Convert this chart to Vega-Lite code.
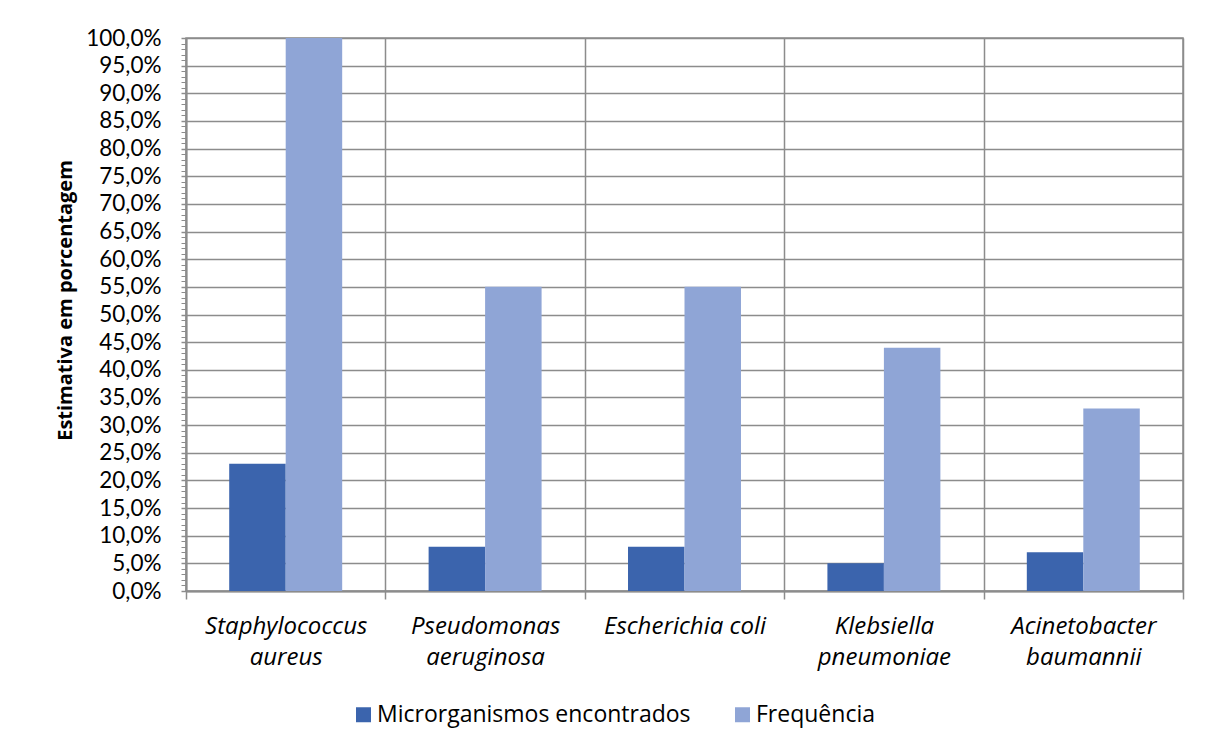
{
  "$schema": "https://vega.github.io/schema/vega-lite/v6.json",
  "width": 997,
  "height": 553,
  "autosize": {"type": "none"},
  "padding": {"left": 186, "top": 38, "right": 27, "bottom": 158},
  "background": "white",
  "config": {
    "font": "Open Sans",
    "view": {"stroke": "#8c8c8c", "strokeWidth": 1.5}
  },
  "data": {
    "values": [
      {"especie": "Staphylococcus aureus", "serie": "Microrganismos encontrados", "valor": 0.23},
      {"especie": "Staphylococcus aureus", "serie": "Frequência", "valor": 1.0},
      {"especie": "Pseudomonas aeruginosa", "serie": "Microrganismos encontrados", "valor": 0.08},
      {"especie": "Pseudomonas aeruginosa", "serie": "Frequência", "valor": 0.55},
      {"especie": "Escherichia coli", "serie": "Microrganismos encontrados", "valor": 0.08},
      {"especie": "Escherichia coli", "serie": "Frequência", "valor": 0.55},
      {"especie": "Klebsiella pneumoniae", "serie": "Microrganismos encontrados", "valor": 0.05},
      {"especie": "Klebsiella pneumoniae", "serie": "Frequência", "valor": 0.44},
      {"especie": "Acinetobacter baumannii", "serie": "Microrganismos encontrados", "valor": 0.07},
      {"especie": "Acinetobacter baumannii", "serie": "Frequência", "valor": 0.33}
    ]
  },
  "resolve": {"axis": {"y": "independent"}},
  "layer": [
    {
      "mark": {"type": "bar"},
      "encoding": {
        "x": {
          "field": "especie",
          "type": "nominal",
          "sort": null,
          "scale": {"paddingInner": 0, "paddingOuter": 0},
          "axis": {
            "title": null,
            "labelAngle": 0,
            "tickBand": "extent",
            "grid": true,
            "gridColor": "#8c8c8c",
            "gridWidth": 1.5,
            "domainColor": "#8c8c8c",
            "domainWidth": 2,
            "tickColor": "#8c8c8c",
            "tickWidth": 1.5,
            "tickSize": 8,
            "labelFont": "Open Sans",
            "labelFontStyle": "italic",
            "labelFontSize": 24,
            "labelColor": "#000000",
            "labelPadding": 15,
            "labelLineHeight": 31,
            "labelLimit": 0,
            "labelExpr": "!isString(datum.value) ? '' : (datum.value == 'Escherichia coli' ? datum.value : split(datum.value, ' '))"
          }
        },
        "xOffset": {
          "field": "serie",
          "type": "nominal",
          "sort": ["Microrganismos encontrados", "Frequência"],
          "scale": {"paddingInner": 0, "paddingOuter": 0.765}
        },
        "y": {
          "field": "valor",
          "type": "quantitative",
          "scale": {"domain": [0, 1], "nice": false},
          "axis": {
            "title": "Estimativa em porcentagem",
            "titleFont": "Open Sans",
            "titleFontSize": 20,
            "titleFontWeight": "bold",
            "titleColor": "#000000",
            "titlePadding": 10,
            "titleY": 262,
            "values": [0, 0.05, 0.1, 0.15, 0.2, 0.25, 0.3, 0.35, 0.4, 0.45, 0.5, 0.55, 0.6, 0.65, 0.7, 0.75, 0.8, 0.85, 0.9, 0.95, 1.0],
            "labelExpr": "replace(format(datum.value, '.1%'), '.', ',')",
            "labelFont": "Lato",
            "labelFontSize": 22.5,
            "labelColor": "#000000",
            "labelPadding": 20,
            "grid": true,
            "gridColor": "#8c8c8c",
            "gridWidth": 1.5,
            "domainColor": "#8c8c8c",
            "domainWidth": 2,
            "tickColor": "#8c8c8c",
            "tickWidth": 1.5,
            "tickSize": 5
          }
        },
        "color": {
          "field": "serie",
          "type": "nominal",
          "sort": ["Microrganismos encontrados", "Frequência"],
          "scale": {"domain": ["Microrganismos encontrados", "Frequência"], "range": ["#3b64ad", "#8fa5d6"]},
          "legend": {
            "title": null,
            "orient": "none",
            "legendX": 166,
            "legendY": 665,
            "direction": "horizontal",
            "symbolType": "square",
            "symbolSize": 225,
            "symbolStrokeWidth": 0,
            "labelFont": "Open Sans",
            "labelFontSize": 23,
            "labelColor": "#000000",
            "labelOffset": 2,
            "labelLimit": 0,
            "columnPadding": 40
          }
        }
      }
    },
    {
      "mark": {"type": "rule", "opacity": 0},
      "encoding": {
        "y": {
          "field": "valor",
          "type": "quantitative",
          "axis": {
            "orient": "left",
            "title": null,
            "labels": false,
            "grid": false,
            "domain": false,
            "tickColor": "#8c8c8c",
            "tickWidth": 1,
            "tickSize": 5,
            "values": [0.01, 0.02, 0.03, 0.04, 0.06, 0.07, 0.08, 0.09, 0.11, 0.12, 0.13, 0.14, 0.16, 0.17, 0.18, 0.19, 0.21, 0.22, 0.23, 0.24, 0.26, 0.27, 0.28, 0.29, 0.31, 0.32, 0.33, 0.34, 0.36, 0.37, 0.38, 0.39, 0.41, 0.42, 0.43, 0.44, 0.46, 0.47, 0.48, 0.49, 0.51, 0.52, 0.53, 0.54, 0.56, 0.57, 0.58, 0.59, 0.61, 0.62, 0.63, 0.64, 0.66, 0.67, 0.68, 0.69, 0.71, 0.72, 0.73, 0.74, 0.76, 0.77, 0.78, 0.79, 0.81, 0.82, 0.83, 0.84, 0.86, 0.87, 0.88, 0.89, 0.91, 0.92, 0.93, 0.94, 0.96, 0.97, 0.98, 0.99]
          }
        }
      }
    }
  ]
}
